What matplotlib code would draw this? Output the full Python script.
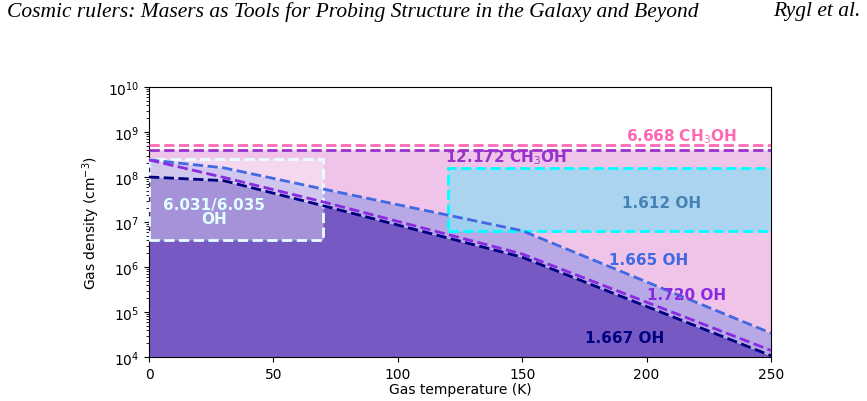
import matplotlib
matplotlib.use('Agg')
import matplotlib.pyplot as plt
from matplotlib.patches import Rectangle

# temperatures (K) where the curves are sampled
temps = [0, 30, 70, 150, 250]
# upper density limits (cm^-3) for the OH lines
n_1665 = [2.4e8, 1.6e8, 5.4e7, 6.4e6, 3.4e4]
n_1720 = [2.4e8, 9.8e7, 2.8e7, 1.95e6, 1.4e4]
n_1667 = [1.0e8, 8.3e7, 2.3e7, 1.65e6, 1.07e4]

# methanol limits (flat)
n_6668 = 5.1e8
n_12172 = 4.0e8

# boxes: (T_min, T_max, n_min, n_max)
box_6031 = (0, 70, 4.0e6, 2.5e8)
box_1612 = (120, 260, 6.3e6, 1.58e8)

n_floor = 1e4

fig = plt.figure(figsize=(8.67, 4.02), dpi=100)
ax = fig.add_axes([149/867, 1-358/402, 622/867, 270/402])

# filled regions
ax.fill_between(temps, n_floor, n_1667, color='#7759c4', lw=0)
ax.fill_between(temps, n_1667, n_1665, color='#b8a8e6', lw=0)
ax.fill_between(temps, n_1665, n_12172, color='#efc4e8', lw=0)

# 6.031/6.035 box
x0, x1, y0, y1 = box_6031
ax.add_patch(Rectangle((x0, y0), x1-x0, y1-y0, facecolor=(1, 1, 1, 0.35),
                       edgecolor='#e8ffff', ls='--', lw=2, zorder=3))
# 1.612 box
x0, x1, y0, y1 = box_1612
ax.add_patch(Rectangle((x0, y0), x1-x0, y1-y0, facecolor=(0.6, 0.85, 0.95, 0.8),
                       edgecolor='cyan', ls='--', lw=2, zorder=3))

# lines
ax.axhline(n_6668, color='hotpink', ls='--', lw=2, zorder=4)
ax.axhline(n_12172, color='darkorchid', ls='--', lw=2, zorder=4)
ax.plot(temps, n_1665, color='royalblue', ls='--', lw=2, zorder=4)
ax.plot(temps, n_1720, color='blueviolet', ls='--', lw=2, zorder=4)
ax.plot(temps, n_1667, color='navy', ls='--', lw=2, zorder=4)

# labels
kw = dict(fontsize=11, fontweight='bold', zorder=5)
ax.text(214, 8.5e8, r'6.668 CH$_3$OH', color='hotpink', ha='center', va='center', **kw)
ax.text(119, 2.8e8, r'12.172 CH$_3$OH', color='darkorchid', ha='left', va='center', **kw)
ax.text(206, 2.75e7, '1.612 OH', color='steelblue', ha='center', va='center', **kw)
ax.text(201, 1.5e6, '1.665 OH', color='royalblue', ha='center', va='center', **kw)
ax.text(216, 2.5e5, '1.720 OH', color='blueviolet', ha='center', va='center', **kw)
ax.text(191, 2.75e4, '1.667 OH', color='navy', ha='center', va='center', **kw)
ax.text(26, 1.7e7, '6.031/6.035\nOH', color='#e0ffff', ha='center', va='center',
        linespacing=0.9, **kw)

ax.set_yscale('log')
ax.set_xlim(0, 250)
ax.set_ylim(1e4, 1e10)
ax.set_xlabel('Gas temperature (K)', labelpad=1)
ax.set_ylabel('Gas density (cm$^{-3}$)')

# page header
fig.text(0.008, 0.995, 'Cosmic rulers: Masers as Tools for Probing Structure in the Galaxy and Beyond',
         family='Liberation Serif', style='italic', fontsize=15.5, va='top', ha='left')
fig.text(0.992, 0.995, 'Rygl et al.', family='Liberation Serif', style='italic',
         fontsize=15.5, va='top', ha='right')

fig.savefig('out.png', dpi=100)
